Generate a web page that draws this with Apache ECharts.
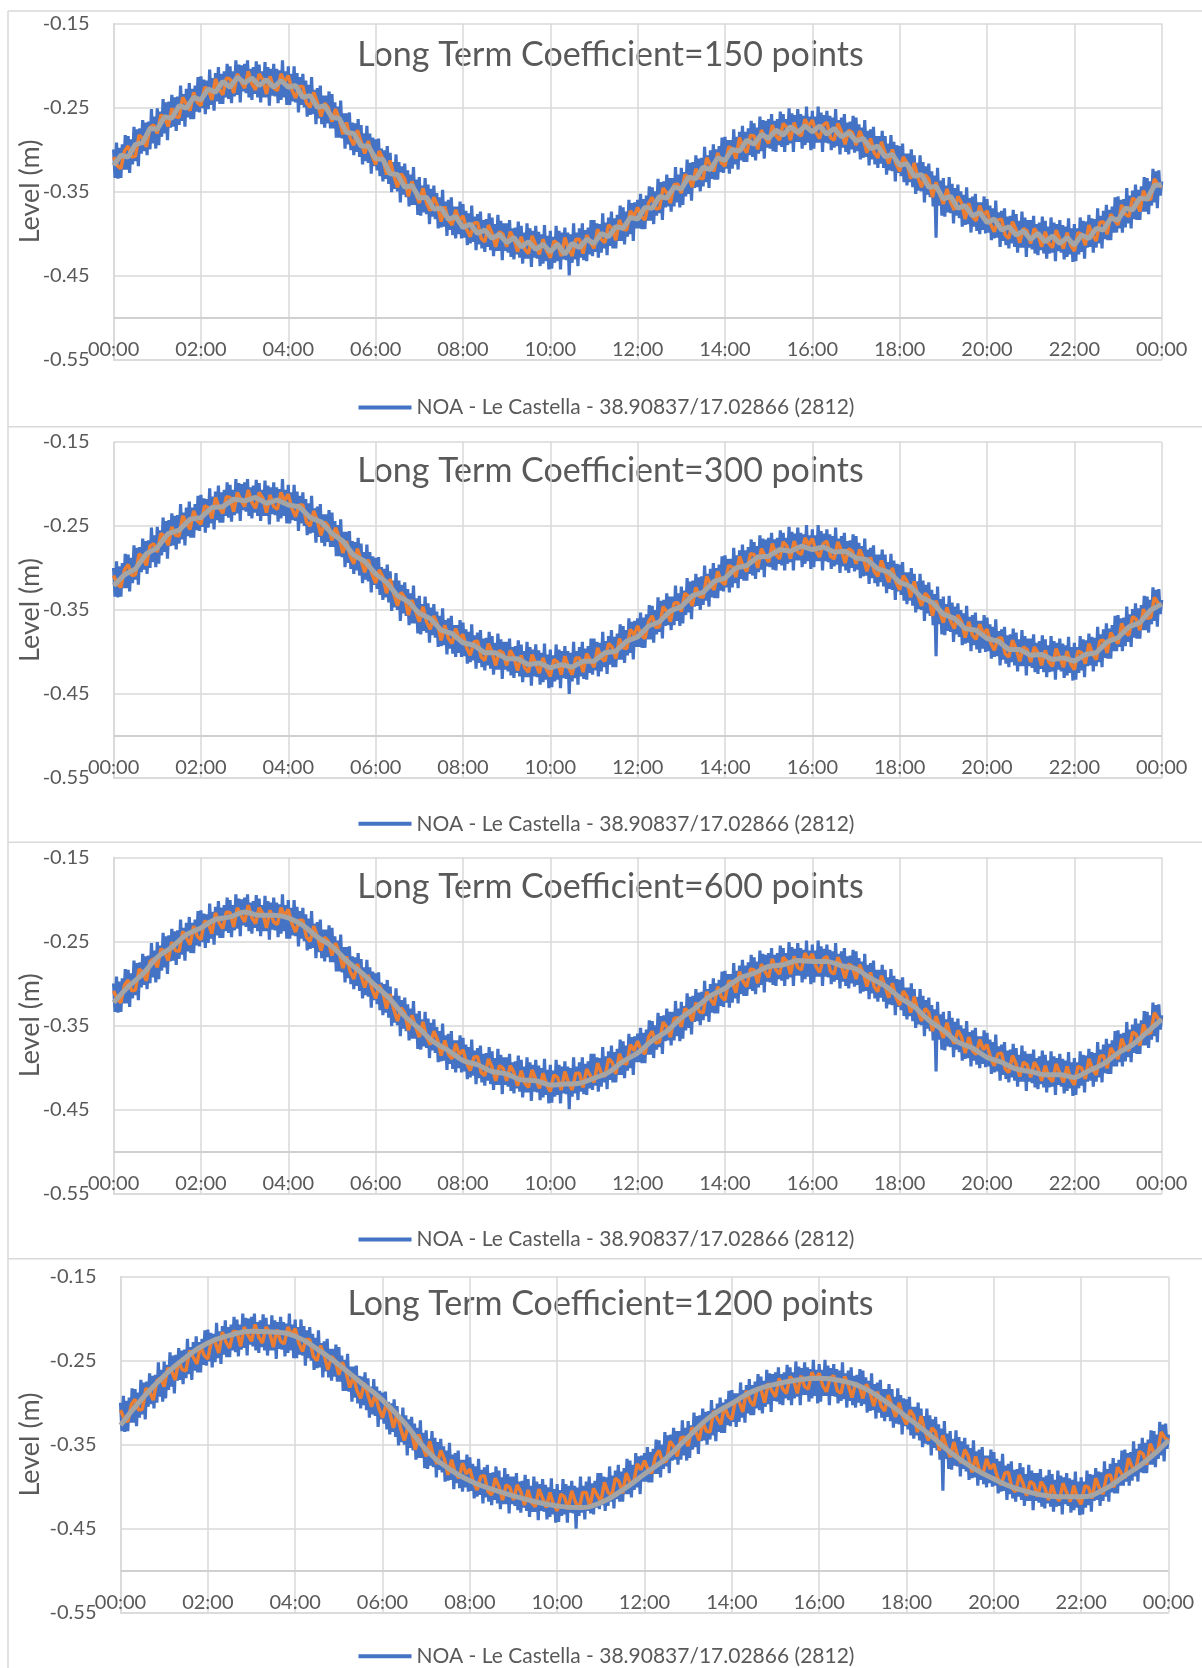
<!DOCTYPE html>
<html><head><meta charset="utf-8">
<script src="https://cdn.jsdelivr.net/npm/echarts@6/dist/echarts.min.js"></script>
<style>html,body{margin:0;padding:0;background:#fff}#c{width:1202px;height:1668px}</style>
</head><body><div id="c"></div>
<script>
// ---- data (levels in millimetres, converted to metres below) ----
const seriesName = 'NOA - Le Castella - 38.90837/17.02866 (2812)';
const panelTitles = ['Long Term Coefficient=150 points','Long Term Coefficient=300 points','Long Term Coefficient=600 points','Long Term Coefficient=1200 points'];
const yAxisTitle = 'Level (m)';
const yTicks = [-0.55, -0.45, -0.35, -0.25, -0.15];
// raw level, one value every 2 minutes, 00:00 -> 24:00 (one row per hour)
const rawLevel = [
-300,-334,-292,-335,-298,-334,-294,-324,-283,-324,-284,-328,-288,-318,-273,-314,-276,-320,-275,-305,-265,-302,-268,-307,-267,-300,-252,-293,-261,-299,
-251,-295,-255,-285,-240,-281,-244,-289,-243,-274,-235,-273,-238,-278,-237,-271,-224,-266,-234,-273,-228,-262,-221,-264,-228,-264,-224,-255,-214,-256,
-213,-251,-217,-258,-218,-252,-205,-247,-215,-254,-209,-243,-202,-246,-210,-246,-207,-238,-198,-240,-201,-245,-207,-237,-194,-235,-199,-244,-200,-231,
-198,-233,-194,-238,-204,-241,-202,-234,-195,-238,-199,-244,-207,-238,-196,-238,-202,-248,-204,-236,-198,-237,-204,-245,-206,-241,-194,-238,-207,-247,
-201,-247,-210,-243,-201,-244,-209,-256,-214,-247,-210,-250,-218,-261,-223,-259,-214,-258,-229,-270,-227,-263,-224,-270,-236,-274,-236,-269,-231,-275,
-234,-275,-244,-286,-249,-286,-242,-287,-257,-299,-257,-294,-256,-301,-268,-307,-269,-303,-264,-309,-271,-318,-281,-314,-272,-316,-281,-329,-286,-320,
-288,-325,-287,-332,-299,-338,-301,-335,-296,-341,-304,-351,-315,-347,-306,-350,-315,-363,-320,-354,-317,-357,-325,-368,-330,-366,-321,-366,-336,-378,
-333,-379,-343,-375,-334,-377,-342,-389,-347,-380,-343,-383,-352,-394,-357,-393,-348,-392,-362,-403,-360,-396,-357,-402,-368,-406,-368,-401,-362,-406,
-365,-405,-373,-414,-376,-412,-367,-410,-380,-420,-377,-413,-374,-418,-384,-422,-383,-416,-376,-420,-381,-427,-389,-421,-378,-421,-385,-432,-388,-421,
-388,-423,-384,-428,-394,-431,-393,-425,-386,-429,-391,-436,-399,-430,-388,-430,-394,-440,-397,-429,-391,-430,-398,-439,-401,-436,-390,-433,-403,-443,
-397,-442,-404,-435,-391,-433,-397,-443,-399,-431,-393,-432,-399,-450,-401,-435,-388,-431,-399,-439,-394,-429,-388,-432,-396,-433,-393,-425,-384,-427,
-384,-422,-388,-429,-389,-423,-376,-418,-387,-426,-381,-415,-374,-418,-382,-418,-378,-409,-367,-409,-369,-413,-374,-404,-360,-401,-364,-409,-363,-394,
-360,-394,-353,-395,-359,-395,-355,-385,-344,-385,-345,-389,-350,-379,-335,-376,-339,-384,-338,-369,-330,-368,-334,-374,-334,-368,-321,-363,-330,-369,
-322,-366,-327,-356,-312,-353,-316,-361,-315,-346,-307,-345,-311,-350,-310,-344,-297,-339,-307,-346,-301,-335,-294,-336,-300,-336,-296,-327,-286,-328,
-285,-323,-289,-329,-289,-323,-276,-318,-285,-324,-279,-313,-272,-315,-279,-315,-275,-307,-266,-309,-269,-313,-274,-305,-261,-302,-265,-311,-266,-298,
-264,-299,-258,-302,-266,-303,-264,-295,-255,-297,-258,-303,-264,-295,-251,-293,-257,-303,-259,-291,-252,-291,-258,-299,-260,-295,-249,-292,-261,-301,
-254,-299,-261,-292,-249,-292,-256,-303,-259,-292,-254,-293,-260,-301,-262,-298,-252,-296,-265,-306,-262,-298,-258,-303,-268,-306,-267,-300,-260,-304,
-262,-302,-270,-312,-274,-310,-265,-309,-278,-319,-276,-312,-273,-318,-284,-322,-284,-317,-278,-322,-284,-330,-293,-325,-283,-326,-291,-338,-295,-328,
-296,-332,-293,-339,-305,-343,-305,-339,-300,-345,-307,-353,-316,-349,-307,-350,-315,-363,-320,-354,-317,-357,-326,-368,-331,-405,-322,-367,-337,-379,
-334,-380,-343,-375,-333,-376,-341,-388,-346,-379,-342,-382,-350,-392,-354,-390,-345,-389,-358,-399,-356,-392,-353,-397,-363,-401,-363,-396,-356,-400,
-359,-399,-367,-408,-370,-406,-361,-405,-375,-416,-373,-409,-370,-414,-380,-418,-379,-412,-372,-416,-377,-423,-385,-417,-374,-417,-381,-428,-384,-417,
-384,-419,-379,-424,-389,-426,-387,-420,-380,-424,-385,-430,-392,-424,-381,-423,-387,-433,-389,-421,-384,-423,-390,-431,-392,-428,-382,-425,-394,-434,
-389,-433,-394,-425,-381,-422,-385,-430,-386,-417,-378,-416,-382,-423,-383,-417,-370,-412,-379,-418,-373,-407,-366,-408,-372,-408,-368,-399,-357,-399,
-356,-394,-360,-399,-359,-393,-346,-388,-355,-394,-349,-383,-342,-384,-348,-384,-344,-374,-333,-374,-334,-377,-338,-367,-323,-363,-326,-370,-325,-355,
-338];
// short term average, every 5 minutes
const shortTermAvg = [
-309,-319,-323,-302,-296,-309,-308,-283,-287,-297,-274,-271,
-281,-259,-262,-273,-251,-261,-262,-238,-246,-254,-232,-244,
-248,-226,-228,-241,-216,-228,-235,-215,-216,-233,-210,-219,
-227,-207,-222,-229,-210,-217,-234,-213,-227,-230,-210,-220,
-212,-229,-239,-225,-225,-245,-250,-232,-244,-261,-245,-250,
-267,-252,-264,-282,-268,-286,-295,-277,-291,-305,-290,-307,
-318,-302,-311,-330,-313,-331,-345,-329,-335,-356,-338,-352,
-364,-346,-364,-373,-357,-367,-386,-368,-384,-390,-372,-385,
-379,-395,-404,-388,-387,-406,-410,-390,-400,-416,-398,-401,
-416,-398,-406,-422,-404,-419,-424,-403,-414,-425,-407,-421,
-429,-409,-412,-427,-405,-418,-427,-407,-407,-424,-402,-410,
-418,-395,-407,-411,-390,-394,-408,-384,-395,-396,-373,-380,
-369,-380,-384,-364,-357,-371,-370,-346,-352,-364,-342,-341,
-352,-330,-334,-345,-323,-334,-335,-310,-319,-326,-304,-316,
-320,-297,-299,-311,-286,-298,-304,-283,-284,-300,-277,-286,
-293,-271,-284,-289,-269,-274,-289,-268,-281,-284,-264,-273,
-265,-280,-287,-271,-268,-286,-289,-269,-279,-294,-277,-280,
-295,-278,-288,-304,-287,-304,-310,-291,-304,-317,-300,-317,
-326,-309,-316,-335,-316,-333,-345,-330,-335,-357,-339,-353,
-365,-347,-363,-372,-356,-364,-383,-364,-380,-385,-367,-379,
-373,-389,-398,-384,-383,-402,-406,-386,-396,-411,-394,-397,
-412,-394,-401,-416,-398,-412,-417,-396,-407,-418,-399,-414,
-421,-399,-401,-414,-390,-402,-409,-387,-386,-401,-377,-384,
-390,-366,-377,-380,-358,-361,-374,-349,-360,-359,-335,-342,
-345];
// long term average, 150 points (every 10 minutes)
const longTerm150 = [
-319,-307,-309,-294,-292,-275,
-276,-261,-263,-248,-251,-238,
-241,-228,-232,-219,-226,-214,
-221,-215,-224,-217,-226,-218,
-226,-224,-238,-236,-250,-248,
-262,-263,-280,-281,-296,-296,
-311,-312,-329,-330,-345,-343,
-358,-357,-371,-370,-383,-380,
-393,-389,-400,-396,-406,-401,
-411,-405,-416,-410,-419,-413,
-422,-413,-425,-412,-417,-407,
-412,-400,-404,-392,-394,-381,
-383,-369,-370,-356,-358,-345,
-347,-333,-335,-321,-324,-310,
-313,-300,-302,-289,-294,-282,
-287,-277,-283,-273,-280,-272,
-279,-272,-282,-275,-285,-280,
-290,-287,-299,-296,-309,-306,
-319,-317,-332,-330,-345,-344,
-359,-356,-370,-367,-379,-375,
-387,-383,-396,-392,-402,-397,
-407,-400,-410,-403,-412,-405,
-414,-402,-406,-394,-396,-382,
-384,-370,-372,-358,-359,-343,
-342];
// long term average, 300 points (every 15 minutes)
const longTerm300 = [
-321,-308,-301,-283, -276,-259,-255,-242, -240,-228,-227,-218, -220,-216,-223,-219,
-225,-227,-240,-245, -259,-268,-285,-292, -307,-317,-333,-340, -354,-360,-374,-378,
-389,-392,-401,-401, -408,-408,-415,-413, -419,-415,-418,-411, -411,-401,-399,-387,
-382,-369,-364,-351, -346,-333,-329,-316, -312,-300,-297,-287, -286,-278,-280,-274,
-278,-275,-281,-280, -288,-290,-301,-305, -317,-322,-335,-341, -355,-360,-372,-374,
-384,-387,-397,-397, -404,-403,-409,-407, -411,-403,-401,-388, -383,-370,-365,-350,
-343];
// long term average, 600 points (every 20 minutes)
const longTerm600 = [
-323,-304,-289, -269,-257,-242, -234,-224,-221, -215,-219,-219,
-222,-231,-245, -256,-273,-287, -303,-319,-339, -354,-370,-380,
-392,-397,-405, -408,-415,-416, -421,-420,-419, -413,-406,-393,
-383,-368,-357, -341,-329,-315, -306,-294,-288, -280,-278,-273,
-274,-274,-279, -283,-294,-303, -317,-328,-344, -356,-370,-377,
-388,-394,-402, -405,-409,-409, -412,-404,-396, -383,-373,-358,
-343];
// long term average, 1200 points (every 30 minutes)
const longTerm1200 = [
-327,-295, -268,-246, -229,-220, -215,-216, -221,-236, -255,-276,
-297,-324, -356,-378, -393,-403, -411,-418, -423,-425, -419,-404,
-385,-366, -341,-317, -301,-286, -278,-273, -271,-274, -282,-298,
-317,-337, -359,-377, -391,-402, -409,-412, -412,-404, -387,-369,
-345];
const longTermSets = [longTerm150, longTerm300, longTerm600, longTerm1200];

// ---- layout ----
const FONT = 'Lato';
const TXT = '#595959';
const GRID = '#d9d9d9';
const panels = [
  {top: 23.4, left: 113.6, right: 40.3, titleX: 610.5, titleY: 55, legendY: 407.4},
  {top: 442.0, left: 113.6, right: 40.3, titleX: 610.5, titleY: 471, legendY: 823.8},
  {top: 857.3, left: 113.6, right: 40.3, titleX: 610.5, titleY: 887, legendY: 1239.5},
  {top: 1276.6, left: 120.5, right: 33.5, titleX: 610.5, titleY: 1304, legendY: 1656.2}
];
const PH = 336;

function toPairs(arr) {
  const step = 1440 / (arr.length - 1);
  return arr.map((v, i) => [i * step, v / 1000]);
}
function hhmm(v) {
  const h = Math.round(v / 60) % 24;
  return (h < 10 ? '0' : '') + h + ':00';
}

const grid = [], xAxis = [], yAxis = [], legend = [], graphic = [];
const rawSeries = [], shortSeries = [], longSeries = [];
panels.forEach((p, i) => {
  grid.push({left: p.left, right: p.right, top: p.top, height: PH, containLabel: false});
  xAxis.push({
    type: 'value', gridIndex: i, min: 0, max: 1440, interval: 120,
    axisLine: {show: true, onZero: false, lineStyle: {color: GRID, width: 1.5}},
    axisTick: {show: false},
    splitLine: {show: true, lineStyle: {color: GRID, width: 1.5}},
    axisLabel: {inside: true, margin: 0, formatter: hhmm, color: TXT, fontFamily: FONT, fontSize: 20,
      showMinLabel: true, showMaxLabel: true, hideOverlap: false}
  });
  yAxis.push({
    type: 'value', gridIndex: i, min: yTicks[0], max: yTicks[yTicks.length - 1], interval: 0.1,
    axisLine: {show: true, lineStyle: {color: GRID, width: 1.5}},
    axisTick: {show: false},
    splitLine: {show: true, lineStyle: {color: GRID, width: 1.5}},
    axisLabel: {margin: 24, color: TXT, fontFamily: FONT, fontSize: 20,
      formatter: v => v.toFixed(2), showMinLabel: true, showMaxLabel: true}
  });
  rawSeries.push({
    name: seriesName, type: 'line', xAxisIndex: i, yAxisIndex: i, data: toPairs(rawLevel),
    showSymbol: false, symbol: 'none', lineStyle: {color: '#4472C4', width: 3.2}, itemStyle: {color: '#4472C4'},
    markLine: {silent: true, symbol: 'none', label: {show: false}, animation: false,
      lineStyle: {color: '#d0d0d0', width: 2, type: 'solid'}, data: [{yAxis: -0.5}]}
  });
  shortSeries.push({
    name: 'short', type: 'line', xAxisIndex: i, yAxisIndex: i, data: toPairs(shortTermAvg),
    showSymbol: false, symbol: 'none', lineStyle: {color: '#ED7D31', width: 3.5}, itemStyle: {color: '#ED7D31'}
  });
  longSeries.push({
    name: 'long', type: 'line', xAxisIndex: i, yAxisIndex: i, data: toPairs(longTermSets[i]),
    showSymbol: false, symbol: 'none', smooth: i === 3 ? 0.5 : (i === 2 ? 0.3 : false),
    lineStyle: {color: '#A5A5A5', width: 5}, itemStyle: {color: '#A5A5A5'}
  });
  legend.push({
    data: [seriesName], left: 358.5, top: p.legendY - 12, padding: 0,
    icon: 'rect', itemWidth: 53, itemHeight: 4, selectedMode: false,
    textStyle: {color: TXT, fontFamily: FONT, fontSize: 21, lineHeight: 24}
  });
  graphic.push({
    type: 'text', x: p.titleX, y: p.titleY, silent: true,
    style: {text: panelTitles[i], fill: TXT, font: '34px ' + FONT, textAlign: 'center', textVerticalAlign: 'middle'}
  });
  graphic.push({
    type: 'text', x: 30, y: p.top + PH / 2, rotation: Math.PI / 2, silent: true,
    style: {text: yAxisTitle, fill: TXT, font: '27px ' + FONT, textAlign: 'center', textVerticalAlign: 'middle'}
  });
});
// panel frames
[11, 426.7, 842.3, 1258.7].forEach(y => {
  graphic.push({type: 'line', silent: true, shape: {x1: 8, y1: y, x2: 1202, y2: y}, style: {stroke: GRID, lineWidth: 1.5}});
});
graphic.push({type: 'line', silent: true, shape: {x1: 8, y1: 11, x2: 8, y2: 1668}, style: {stroke: GRID, lineWidth: 1.5}});

const series = rawSeries.concat(shortSeries, longSeries);
const chart = echarts.init(document.getElementById('c'), null, {renderer: 'canvas'});
chart.setOption({animation: false, backgroundColor: '#fff', grid, xAxis, yAxis, series, legend, graphic});
</script></body></html>
